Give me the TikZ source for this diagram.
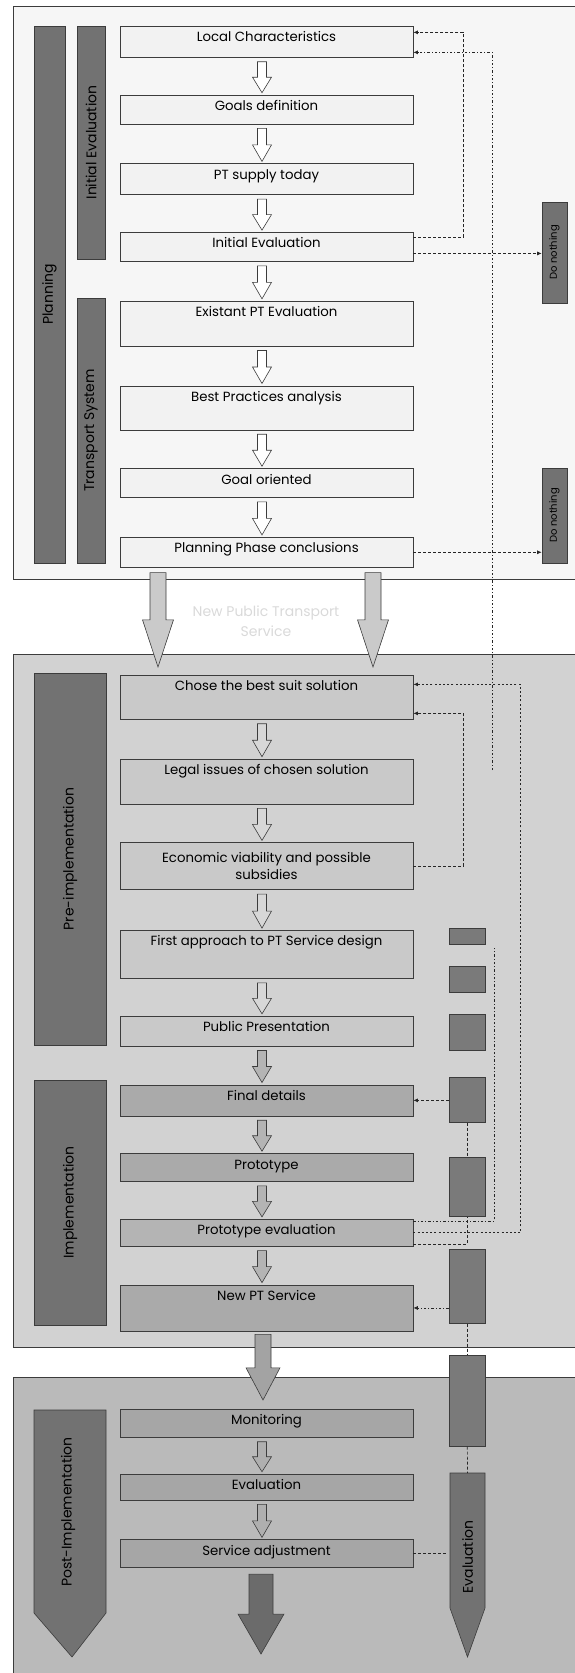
\documentclass[tikz,border=0pt]{standalone}
\usepackage{fontspec}
\setmainfont{Poppins}
\usetikzlibrary{positioning,calc,arrows.meta}

\definecolor{panelA}{HTML}{F6F6F6}
\definecolor{panelB}{HTML}{D2D2D2}
\definecolor{panelC}{HTML}{BABABA}
\definecolor{boxA}{HTML}{F2F2F2}
\definecolor{boxB}{HTML}{C9C9C9}
\definecolor{boxImp}{HTML}{AAAAAA}
\definecolor{boxEval}{HTML}{B4B4B4}
\definecolor{boxC}{HTML}{A6A6A6}
\definecolor{barfill}{HTML}{727272}
\definecolor{tilefill}{HTML}{7A7A7A}
\definecolor{gapfill}{HTML}{CACACA}
\definecolor{midarrow}{HTML}{A3A3A3}
\definecolor{darkarrow}{HTML}{6B6B6B}
\definecolor{edge}{HTML}{3C3C3C}

\begin{document}
\begin{tikzpicture}[x=1pt, y=-1pt,
    stage/.style={rectangle, draw=edge, line width=0.7pt, minimum width=293pt,
        inner sep=2pt, anchor=north, font=\fontsize{13.3}{15}\selectfont},
    lift/.style={text height=13.5pt, text depth=#1},
    bar/.style={rectangle, draw=edge, fill=barfill, line width=0.6pt, inner sep=1pt,
        font=\fontsize{14}{16}\selectfont},
    tile/.style={rectangle, draw=edge, fill=tilefill, line width=0.6pt,
        minimum width=36pt, inner sep=0pt, anchor=north},
    blockarrow/.style n args={3}{draw=edge, line width=0.6pt, to path={
        ($(\tikztostart)+(-#1,0)$) -- ($(\tikztostart)!#3!(\tikztotarget)+(-#1,0)$)
        -- ($(\tikztostart)!#3!(\tikztotarget)+(-#2,0)$) -- (\tikztotarget)
        -- ($(\tikztostart)!#3!(\tikztotarget)+(#2,0)$)
        -- ($(\tikztostart)!#3!(\tikztotarget)+(#1,0)$)
        -- ($(\tikztostart)+(#1,0)$) -- cycle}},
    hollow/.style={blockarrow={4.5}{9.5}{0.5}, fill=#1},
    fb/.style={densely dashed, line width=0.7pt, draw=black!85},
    tip/.style={-{Latex[length=4.5pt,width=4pt]}},
    dashdot/.style={dash pattern=on 2.5pt off 2pt on 1pt off 2pt, line width=0.7pt, draw=black!85},
    heavy/.style={dash pattern=on 2pt off 2.2pt, line width=1.4pt, draw=black!85}
]
\useasboundingbox (0,0) rectangle (574,1673);

% phase panels
\draw[edge, line width=0.8pt, fill=panelA] (13,6) rectangle (600,579);
\draw[edge, line width=0.8pt, fill=panelB] (13,654) rectangle (600,1347);
\draw[edge, line width=0.8pt, fill=panelC] (13,1377) rectangle (600,1690);

\node[font=\fontsize{14}{20}\selectfont, text=gray!30, align=center] (gaptext) at (266,621) {New Public Transport\\Service};

% side bars
\node[bar, minimum width=31, minimum height=537] (planning) at (49.5,294.5) {\rotatebox{90}{Planning}};
\node[bar, minimum width=28, minimum height=233] (initial) at (91,142.5) {\rotatebox{90}{Initial Evaluation}};
\node[bar, minimum width=28, minimum height=265] (transport) at (91,430.5) {\rotatebox{90}{Transport System}};
\node[bar, minimum width=72, minimum height=372] (pre) at (70,859) {\rotatebox{90}{Pre-implementation}};
\node[bar, minimum width=72, minimum height=245] (impl) at (70,1202.5) {\rotatebox{90}{Implementation}};
\node[bar, minimum width=25, minimum height=101, font=\fontsize{10}{11}\selectfont] (dnA) at (554.5,252.5) {\rotatebox{90}{Do nothing}};
\node[bar, minimum width=25, minimum height=95, font=\fontsize{10}{11}\selectfont] (dnB) at (554.5,515.5) {\rotatebox{90}{Do nothing}};
\draw[edge, line width=0.6pt, fill=barfill] (34,1410) -- (106,1410) -- (106,1613) -- (72,1657) -- (34,1613) -- cycle;
\node[font=\fontsize{14}{16}\selectfont] (postlbl) at (68,1512) {\rotatebox{90}{Post-Implementation}};
\draw[edge, line width=0.6pt, fill=barfill] (450,1473) -- (485,1473) -- (485,1608) -- (467.5,1657) -- (450,1608) -- cycle;
\node[font=\fontsize{14}{16}\selectfont] (evallbl) at (467.5,1557) {\rotatebox{90}{Evaluation}};
\coordinate (evaltop) at (467.5,1473);
\coordinate (evalside) at (446,1552);

% planning
\node[stage, fill=boxA, lift=13.5pt] (local) at (266.5,26) {Local Characteristics};
\node[stage, fill=boxA, lift=11.5pt, below=37pt of local] (goals) {Goals definition};
\node[stage, fill=boxA, lift=13.5pt, below=39pt of goals] (supply) {PT supply today};
\node[stage, fill=boxA, lift=11.5pt, below=37pt of supply] (initeval) {Initial Evaluation};
\node[stage, fill=boxA, lift=27.5pt, below=39pt of initeval] (existant) {Existant PT Evaluation};
\node[stage, fill=boxA, lift=26.5pt, below=39pt of existant] (best) {Best Practices analysis};
\node[stage, fill=boxA, lift=11.5pt, below=38pt of best] (goal) {Goal oriented};
\node[stage, fill=boxA, lift=12.5pt, below=39pt of goal] (conclusions) {Planning Phase conclusions};

% pre-implementation and implementation
\node[stage, fill=boxB, lift=26.5pt] (chose) at (266.5,675) {Chose the best suit solution};
\node[stage, fill=boxB, lift=27.5pt, below=39pt of chose] (legal) {Legal issues of chosen solution};
\node[stage, fill=boxB, minimum height=47pt, align=center, font=\fontsize{13.3}{17}\selectfont,
    below=38pt of legal] (econ) {Economic viability and possible\\subsidies};
\node[stage, fill=boxB, lift=30.5pt, below=40pt of econ] (first) {First approach to PT Service design};
\node[stage, fill=boxB, lift=12.5pt, below=37pt of first] (public) {Public Presentation};
\node[stage, fill=boxImp, lift=13.5pt, below=38pt of public] (final) {Final details};
\node[stage, fill=boxImp, lift=10.5pt, below=37pt of final] (proto) {Prototype};
\node[stage, fill=boxEval, lift=9.5pt, below=37pt of proto] (protoeval) {Prototype evaluation};
\node[stage, fill=boxImp, lift=28.5pt, below=38pt of protoeval] (newpt) {New PT Service};

% post-implementation
\node[stage, fill=boxC, lift=10.5pt] (monitoring) at (266.5,1409) {Monitoring};
\node[stage, fill=boxC, lift=8.5pt, below=36pt of monitoring] (evaluation) {Evaluation};
\node[stage, fill=boxC, lift=10.5pt, below=39pt of evaluation] (adjust) {Service adjustment};

% flow arrows
\foreach \a/\b in {local/goals, goals/supply, supply/initeval, initeval/existant,
    existant/best, best/goal, goal/conclusions}
    \draw[hollow=white] ([xshift=-4.5,yshift=-4]\a.south) to ([xshift=-4.5,yshift=2]\b.north);
\foreach \a/\b in {chose/legal, legal/econ, econ/first, first/public}
    \draw[hollow=panelB!90!white] ([xshift=-4.5,yshift=-4]\a.south) to ([xshift=-4.5,yshift=2]\b.north);
\foreach \a/\b in {public/final, final/proto, proto/protoeval, protoeval/newpt}
    \draw[hollow=boxEval] ([xshift=-4.5,yshift=-4]\a.south) to ([xshift=-4.5,yshift=2]\b.north);
\foreach \a/\b in {monitoring/evaluation, evaluation/adjust}
    \draw[hollow=boxC!90!white] ([xshift=-4.5,yshift=-4]\a.south) to ([xshift=-4.5,yshift=2]\b.north);

\draw[blockarrow={8}{15.5}{0.5}, fill=gapfill] ([xshift=-108.5,yshift=-5]conclusions.south) to ([xshift=-108.5,yshift=8]chose.north);
\draw[blockarrow={8}{15.5}{0.5}, fill=gapfill] ([xshift=106.5,yshift=-5]conclusions.south) to ([xshift=106.5,yshift=8]chose.north);
\draw[blockarrow={8}{17}{0.51}, fill=midarrow] ([xshift=-3.5,yshift=-3]newpt.south) to ([xshift=-3.5,yshift=9]monitoring.north);
\coordinate (exit) at (261,1654);
\draw[blockarrow={12}{23}{0.5}, fill=darkarrow] ([xshift=-5.5,yshift=-6]adjust.south) to (exit);

% feedback loops
\draw[fb, tip] ([yshift=9.5]initeval.east) -- ++(50,0) |- ([yshift=9.5]local.east);
\coordinate (loose1) at (492,770);
\draw[dashdot, tip] (loose1) |- ([yshift=-10.5]local.east);
\draw[fb, tip] ([yshift=-6.5]initeval.east) coordinate (ie) -- (ie -| dnA.west);
\draw[fb, tip] (conclusions.east) -- (conclusions.east -| dnB.west);

\draw[heavy, tip] (protoeval.east) -- ++(107,0) |- ([yshift=13]chose.east);
\draw[fb, tip] (econ.east) -- ++(50,0) |- ([yshift=-16]chose.east);
\coordinate (loose2) at (494,948);
\draw[dashdot] ([yshift=11.5]protoeval.east) -| (loose2);
\draw[fb] ([yshift=-11.5]protoeval.east) -| (467,1216);

% evaluation tiles
\foreach \n/\t/\h in {1/928/16, 2/966/26, 3/1014/36, 4/1077/45, 5/1157/59, 6/1249/74, 7/1355/91}
    \node[tile, minimum height=\h] (sq\n) at (467,\t) {};

\draw[fb, tip] (sq4.west |- final.east) -- (final.east);
\draw[fb] (sq4) -- (sq5);
\draw[dashdot, tip] (sq6.west |- newpt.east) -- (newpt.east);
\draw[fb] (sq6) -- (sq7);
\draw[fb] (sq7) -- (evaltop);
\draw[fb] (adjust.east) -- (adjust.east -| evalside);
\end{tikzpicture}
\end{document}
